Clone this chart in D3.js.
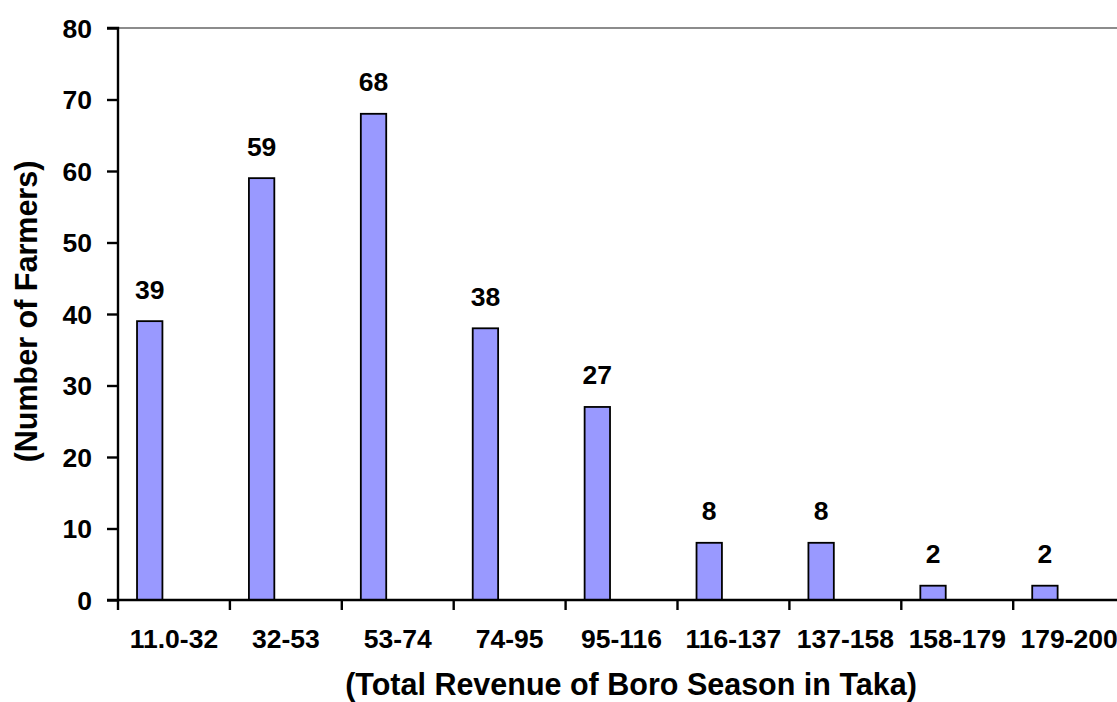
<!DOCTYPE html>
<html>
<head>
<meta charset="utf-8">
<script src="https://cdn.jsdelivr.net/npm/d3@7"></script>
<style>
  html, body { margin: 0; padding: 0; background: #fff; }
  svg { display: block; }
  text { font-family: "Liberation Sans", Arial, sans-serif; font-weight: bold; fill: #000; }
</style>
</head>
<body>
<svg id="chart" width="1117" height="702"></svg>
<script>
const categories = ["11.0-32", "32-53", "53-74", "74-95", "95-116", "116-137", "137-158", "158-179", "179-200"];
const farmers = [39, 59, 68, 38, 27, 8, 8, 2, 2];
const yTicks = [0, 10, 20, 30, 40, 50, 60, 70, 80];
const xTitle = "(Total Revenue of Boro Season in Taka)";
const yTitle = "(Number of Farmers)";

const svg = d3.select("#chart");
const plotLeft = 118, plotTop = 28, plotBottom = 600;
const bandW = 111.9;
const labelSize = "26.5px", titleSize = "30.5px";

const x = d3.scaleBand().domain(categories).range([plotLeft, plotLeft + bandW * categories.length]).paddingInner(0).paddingOuter(0);
const y = d3.scaleLinear().domain([0, 80]).range([plotBottom, plotTop]);

// top gridline
svg.append("line")
  .attr("x1", plotLeft).attr("x2", 1117)
  .attr("y1", y(80)).attr("y2", y(80))
  .attr("stroke", "#8c8c8c").attr("stroke-width", 2);

// bars
const bw = x.bandwidth();
svg.selectAll("rect.bar").data(categories).join("rect")
  .attr("class", "bar")
  .attr("x", c => x(c) + bw * 0.17)
  .attr("width", bw * 0.227)
  .attr("y", (c, i) => y(farmers[i]))
  .attr("height", (c, i) => y(0) - y(farmers[i]))
  .attr("fill", "#9999ff")
  .attr("stroke", "#000")
  .attr("stroke-width", 1.8);

// data labels
svg.selectAll("text.val").data(categories).join("text")
  .attr("class", "val")
  .attr("x", c => x(c) + bw * 0.17 + bw * 0.227 / 2)
  .attr("y", (c, i) => y(farmers[i]) - 22.5)
  .attr("text-anchor", "middle")
  .style("font-size", labelSize)
  .text((c, i) => farmers[i]);

// y axis
const yAxis = d3.axisLeft(y).tickValues(yTicks).tickSize(11).tickPadding(15);
const gy = svg.append("g").attr("transform", `translate(${plotLeft},0)`).call(yAxis);
gy.select(".domain").attr("stroke", "#000").attr("stroke-width", 2.4).attr("d", `M-11,${plotTop}H0V${plotBottom}H-11`);
gy.selectAll(".tick line").attr("stroke", "#000").attr("stroke-width", 2.4);
gy.selectAll(".tick text").style("font-size", labelSize).style("font-family", "'Liberation Sans', Arial, sans-serif").style("font-weight", "bold").attr("dy", "0.35em");

// x axis
const xAxis = d3.axisBottom(x).tickSize(0).tickPadding(0);
const gx = svg.append("g").attr("transform", `translate(0,${plotBottom})`).call(xAxis);
gx.select(".domain").attr("stroke", "#000").attr("stroke-width", 2.4).attr("d", `M${plotLeft},0H1117`);
gx.selectAll(".tick text").style("font-size", labelSize).style("font-family", "'Liberation Sans', Arial, sans-serif").style("font-weight", "bold").attr("y", 48).attr("dy", 0);
// boundary tick marks
const bounds = categories.map(c => x(c)).concat([x(categories[categories.length-1]) + bw]);
gx.selectAll("line.bnd").data(bounds).join("line")
  .attr("class", "bnd")
  .attr("x1", d => d).attr("x2", d => d)
  .attr("y1", 0).attr("y2", 10)
  .attr("stroke", "#000").attr("stroke-width", 2.4);

// axis titles
svg.append("text")
  .attr("x", 631).attr("y", 695)
  .attr("text-anchor", "middle")
  .style("font-size", titleSize)
  .text(xTitle);

svg.append("text")
  .attr("transform", `translate(37,311.5) rotate(-90)`)
  .attr("text-anchor", "middle")
  .style("font-size", titleSize)
  .text(yTitle);
</script>
</body>
</html>
